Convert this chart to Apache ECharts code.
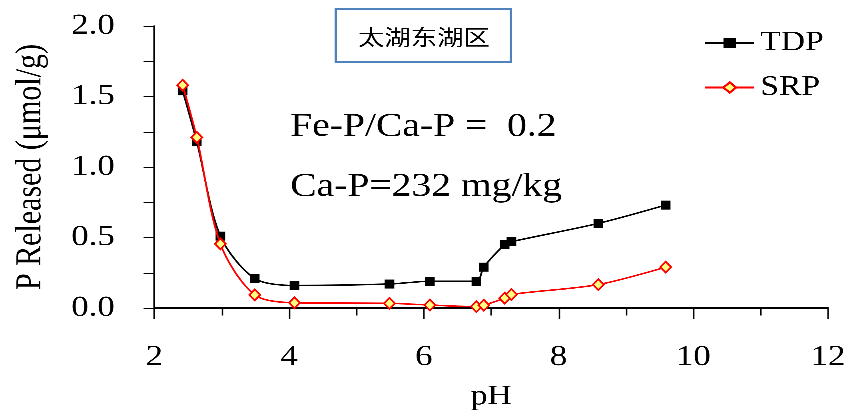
<!DOCTYPE html>
<html>
<head>
<meta charset="utf-8">
<script src="https://cdn.jsdelivr.net/npm/echarts@6/dist/echarts.min.js"></script>
<style>
  html, body { margin: 0; padding: 0; background: #fff; overflow: hidden; }
  /* chart laid out at 708px and widened to the full 849px page */
  #chart { width: 708px; height: 416px; transform: scaleX(1.1992); transform-origin: 0 0; }
</style>
</head>
<body>
<div id="chart"></div>
<script>
// pH of each extraction step
const pH = [2.42, 2.63, 2.98, 3.49, 4.08, 5.49, 6.09, 6.78, 6.89, 7.20, 7.30, 8.59, 9.59];
// P released (μmol/g)
const tdp = [1.54, 1.18, 0.51, 0.21, 0.16, 0.17, 0.19, 0.19, 0.29, 0.45, 0.47, 0.60, 0.73];
const srp = [1.58, 1.21, 0.455, 0.093, 0.037, 0.033, 0.021, 0.01, 0.02, 0.07, 0.096, 0.166, 0.29];
const seriesNames = ['TDP', 'SRP'];
const xTicks = [2, 4, 6, 8, 10, 12];
const yTicks = [0, 0.5, 1.0, 1.5, 2.0];
const siteLabel = '太湖东湖区';
const notes = ['Fe-P/Ca-P =  0.2', 'Ca-P=232 mg/kg'];

const serif = '"Liberation Serif", "Times New Roman", serif';
const cjk = '"Noto Sans CJK SC", sans-serif';
const chart = echarts.init(document.getElementById('chart'), null,
  { renderer: 'canvas', devicePixelRatio: 3 });

const pairs = (ys) => pH.map((x, i) => [x, ys[i]]);

chart.setOption({
  animation: false,
  backgroundColor: '#ffffff',
  textStyle: { fontFamily: serif },
  grid: { left: 128.7, right: 15.6, top: 26, bottom: 104 },
  legend: {
    left: 582, top: 24, orient: 'vertical', itemGap: 16.5,
    itemWidth: 41, itemHeight: 13,
    textStyle: { fontFamily: serif, fontSize: 28, color: '#000', lineHeight: 28 },
    data: seriesNames
  },
  xAxis: {
    type: 'value', min: xTicks[0], max: xTicks[xTicks.length - 1], interval: 2,
    name: 'pH', nameLocation: 'middle', nameGap: 75,
    nameTextStyle: { fontFamily: serif, fontSize: 28, color: '#000' },
    axisLine: { lineStyle: { color: '#000', width: 1.5 } },
    axisTick: { show: true, inside: false, length: 11, lineStyle: { color: '#000', width: 1.2 } },
    minorTick: { show: true, splitNumber: 2, length: 7.5, lineStyle: { color: '#000', width: 1.2 } },
    axisLabel: { margin: 35, fontFamily: serif, fontSize: 29, color: '#000' },
    splitLine: { show: false }
  },
  yAxis: {
    type: 'value', min: yTicks[0], max: yTicks[yTicks.length - 1], interval: 0.5,
    name: 'P Released (μmol/g)', nameLocation: 'middle', nameGap: 88, nameRotate: 90,
    nameTextStyle: { fontFamily: serif, fontSize: 30, color: '#000' },
    axisLine: { show: true, lineStyle: { color: '#000', width: 1.3 } },
    axisTick: { show: true, inside: false, length: 9, lineStyle: { color: '#000', width: 1.2 } },
    minorTick: { show: true, splitNumber: 2, length: 9, lineStyle: { color: '#000', width: 1.2 } },
    axisLabel: { margin: 33, fontFamily: serif, fontSize: 29, color: '#000',
      formatter: (v) => v.toFixed(1) },
    splitLine: { show: false }
  },
  series: [
    {
      name: seriesNames[0], type: 'line', data: pairs(tdp), smooth: 0.3,
      symbol: 'rect', symbolSize: [8, 9],
      lineStyle: { color: '#000', width: 1.5 },
      itemStyle: { color: '#000', borderColor: '#000', borderWidth: 0 },
      z: 2
    },
    {
      name: seriesNames[1], type: 'line', data: pairs(srp), smooth: 0.3,
      symbol: 'diamond', symbolSize: [9, 11],
      lineStyle: { color: '#ff0000', width: 1.5 },
      itemStyle: { color: '#ffff80', borderColor: '#ff0000', borderWidth: 1.6 },
      z: 3
    }
  ],
  graphic: [
    {
      type: 'rect', x: 280, y: 9,
      shape: { width: 146, height: 53 },
      style: { fill: '#fff', stroke: '#4f81bd', lineWidth: 2 }, z: 10
    },
    {
      type: 'text', x: 353.5, y: 37,
      style: { text: siteLabel, align: 'center', verticalAlign: 'middle',
        font: '22px ' + cjk, fill: '#000' }, z: 11
    },
    {
      type: 'text', x: 242, y: 127,
      style: { text: notes[0], verticalAlign: 'middle', font: '33px ' + serif, fill: '#000' }, z: 11
    },
    {
      type: 'text', x: 242, y: 187,
      style: { text: notes[1], verticalAlign: 'middle', font: '33px ' + serif, fill: '#000' }, z: 11
    }
  ]
});
</script>
</body>
</html>
